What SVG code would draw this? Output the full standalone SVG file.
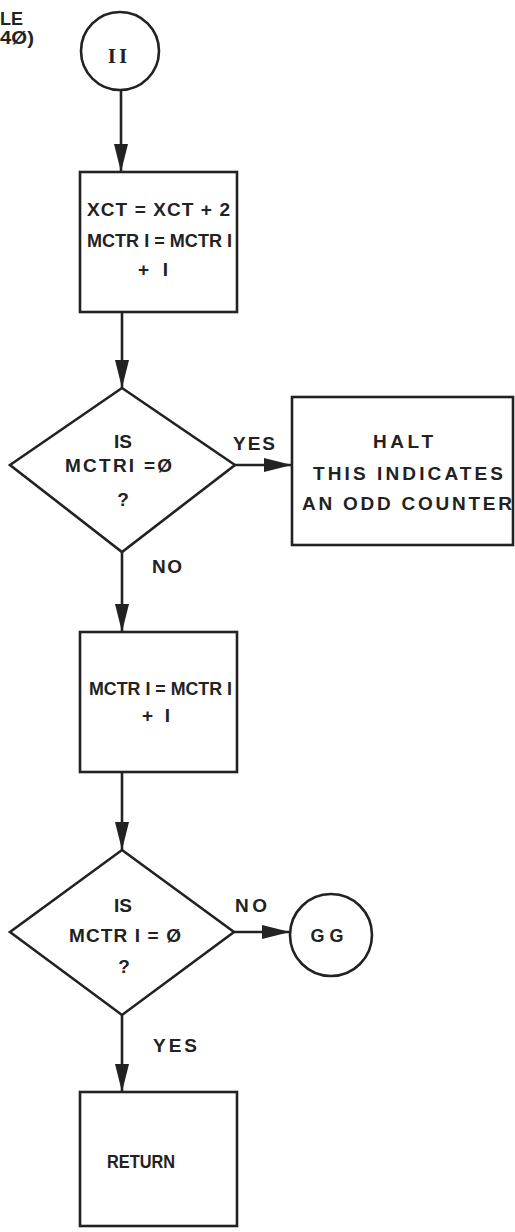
<svg xmlns="http://www.w3.org/2000/svg" width="515" height="1232" viewBox="0 0 515 1232">
<defs>
<style>
.s{fill:none;stroke:#222;stroke-width:2.6;stroke-linejoin:miter}
.t{font-family:"Liberation Sans",Arial,sans-serif;font-weight:bold;font-size:19px;fill:#222}
.m{text-anchor:middle}
.ser{font-family:"Liberation Serif",serif;font-weight:bold;font-size:21px;fill:#222}
</style>
<marker id="ah" markerWidth="28" markerHeight="14" refX="28" refY="7" orient="auto" markerUnits="userSpaceOnUse">
<path d="M0,0 L28,7 L0,14 Z" fill="#222"/>
</marker>
</defs>
<rect width="515" height="1232" fill="#fff"/>

<g id="offpage">
<text class="t" x="0" y="25" font-size="15" textLength="23" lengthAdjust="spacingAndGlyphs">LE</text>
<text class="t" x="0" y="44" font-size="14" textLength="34" lengthAdjust="spacingAndGlyphs">4Ø)</text>
</g>

<g id="connectors">
<line class="s" x1="121" y1="90" x2="121" y2="172" marker-end="url(#ah)"/>
<line class="s" x1="122" y1="312" x2="122" y2="388" marker-end="url(#ah)"/>
<line class="s" x1="235" y1="465" x2="292" y2="465" marker-end="url(#ah)"/>
<line class="s" x1="122" y1="552" x2="122" y2="632" marker-end="url(#ah)"/>
<line class="s" x1="122" y1="772" x2="122" y2="850" marker-end="url(#ah)"/>
<line class="s" x1="234" y1="932" x2="290" y2="932" marker-end="url(#ah)"/>
<line class="s" x1="122" y1="1015" x2="122" y2="1092" marker-end="url(#ah)"/>
<text class="t" x="254" y="450" textLength="42" lengthAdjust="spacing" text-anchor="middle">YES</text>
<text class="t" x="167" y="573" textLength="30" lengthAdjust="spacing" text-anchor="middle">NO</text>
<text class="t" x="251" y="912" textLength="32" lengthAdjust="spacing" text-anchor="middle">NO</text>
<text class="t" x="175" y="1052" textLength="44" lengthAdjust="spacing" text-anchor="middle">YES</text>
</g>

<g id="n_II">
<circle class="s" cx="120" cy="51" r="39"/>
<text class="ser m" x="119" y="63" letter-spacing="3">II</text>
</g>

<g id="n_box1">
<rect class="s" x="80" y="172" width="157" height="140"/>
<text class="t" x="87" y="216" textLength="143" lengthAdjust="spacing">XCT = XCT + 2</text>
<text class="t" x="87" y="247" textLength="145" lengthAdjust="spacingAndGlyphs">MCTR I = MCTR I</text>
<text class="t" x="138" y="276" textLength="30" lengthAdjust="spacing">+ I</text>
</g>

<g id="n_dec1">
<polygon class="s" points="122,388 235,465 122,552 10,465"/>
<text class="t m" x="123" y="448">IS</text>
<text class="t" x="65" y="472" textLength="107" lengthAdjust="spacing">MCTRI =Ø</text>
<text class="t m" x="123" y="506">?</text>
</g>

<g id="n_halt">
<rect class="s" x="292" y="397" width="221" height="148"/>
<text class="t m" x="403" y="448" textLength="60" lengthAdjust="spacing">HALT</text>
<text class="t m" x="408" y="480" textLength="190" lengthAdjust="spacing">THIS INDICATES</text>
<text class="t m" x="407" y="510" textLength="210" lengthAdjust="spacing">AN ODD COUNTER</text>
</g>

<g id="n_box2">
<rect class="s" x="80" y="632" width="157" height="140"/>
<text class="t" x="89" y="695" textLength="143" lengthAdjust="spacingAndGlyphs">MCTR I = MCTR I</text>
<text class="t" x="142" y="722" textLength="28" lengthAdjust="spacing">+ I</text>
</g>

<g id="n_dec2">
<polygon class="s" points="122,850 234,932 122,1015 10,932"/>
<text class="t m" x="123" y="912">IS</text>
<text class="t" x="69" y="942" textLength="112" lengthAdjust="spacing">MCTR I = Ø</text>
<text class="t m" x="124" y="973">?</text>
</g>

<g id="n_GG">
<circle class="s" cx="331" cy="935" r="41"/>
<text class="t m" x="327" y="942" textLength="33" lengthAdjust="spacingAndGlyphs">G G</text>
</g>

<g id="n_return">
<rect class="s" x="80" y="1092" width="157" height="134"/>
<text class="t" x="107" y="1168" textLength="68" lengthAdjust="spacingAndGlyphs">RETURN</text>
</g>
</svg>
